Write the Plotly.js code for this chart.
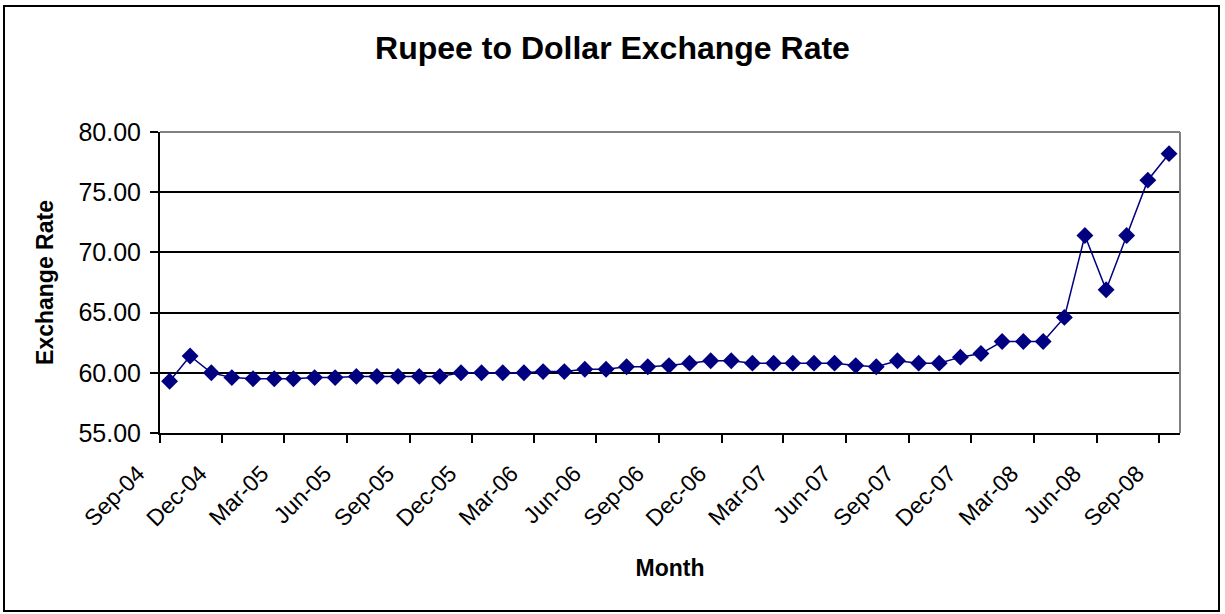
<!DOCTYPE html>
<html>
<head>
<meta charset="utf-8">
<script src="https://cdn.plot.ly/plotly-3.0.1.min.js"></script>
<style>
  html, body { margin: 0; padding: 0; background: #ffffff; }
  #wrap { position: relative; width: 1225px; height: 614px; }
  #chart { width: 1225px; height: 614px; }
  #frame { position: absolute; left: 3px; top: 5px; width: 1213px; height: 603px;
           border: 2px solid #000; pointer-events: none; }
</style>
</head>
<body>
<div id="wrap">
  <div id="chart"></div>
  <div id="frame"></div>
</div>
<script>
// Monthly observations (plotted mid-month on a date axis)
const months = [
  "2004-09-15","2004-10-15","2004-11-15","2004-12-15",
  "2005-01-15","2005-02-15","2005-03-15","2005-04-15","2005-05-15","2005-06-15",
  "2005-07-15","2005-08-15","2005-09-15","2005-10-15","2005-11-15","2005-12-15",
  "2006-01-15","2006-02-15","2006-03-15","2006-04-15","2006-05-15","2006-06-15",
  "2006-07-15","2006-08-15","2006-09-15","2006-10-15","2006-11-15","2006-12-15",
  "2007-01-15","2007-02-15","2007-03-15","2007-04-15","2007-05-15","2007-06-15",
  "2007-07-15","2007-08-15","2007-09-15","2007-10-15","2007-11-15","2007-12-15",
  "2008-01-15","2008-02-15","2008-03-15","2008-04-15","2008-05-15","2008-06-15",
  "2008-07-15","2008-08-15","2008-09-15"
];
const exchangeRate = [
  59.3, 61.4, 60.0, 59.6,
  59.5, 59.5, 59.5, 59.6, 59.6, 59.7,
  59.7, 59.7, 59.7, 59.7, 60.0, 60.0,
  60.0, 60.0, 60.1, 60.1, 60.3, 60.3,
  60.5, 60.5, 60.6, 60.8, 61.0, 61.0,
  60.8, 60.8, 60.8, 60.8, 60.8, 60.6,
  60.5, 61.0, 60.8, 60.8, 61.3, 61.6,
  62.6, 62.6, 62.6, 64.6, 71.4, 66.9,
  71.4, 76.0, 78.2
];
const yTicks = [55, 60, 65, 70, 75, 80];
const yTickText = ["55.00", "60.00", "65.00", "70.00", "75.00", "80.00"];
const xRange = ["2004-09-01", "2008-10-01"];
const yRange = [55, 80];

const FONT = "Arial, 'Liberation Sans', sans-serif";

const trace = {
  type: "scatter",
  mode: "lines+markers",
  x: months,
  y: exchangeRate,
  line: { color: "#000080", width: 1.5 },
  marker: { symbol: "diamond", size: 13, color: "#000080" },
  hoverinfo: "x+y",
  showlegend: false
};

const layout = {
  width: 1225, height: 614,
  margin: { l: 160, r: 45, t: 132, b: 181 },
  paper_bgcolor: "#ffffff",
  plot_bgcolor: "#ffffff",
  font: { family: FONT, color: "#000" },
  title: {
    text: "<b>Rupee to Dollar Exchange Rate</b>",
    font: { family: FONT, size: 32, color: "#000" },
    x: 0.5, xref: "container", xanchor: "center",
    y: 1 - 48 / 614, yref: "container", yanchor: "middle"
  },
  xaxis: {
    type: "date",
    range: xRange,
    tick0: "2004-09-01",
    dtick: "M3",
    tickformat: "%b-%y",
    tickangle: -45,
    ticks: "outside",
    ticklen: 8,
    tickwidth: 1.5,
    tickcolor: "#000",
    ticklabelshift: -22,
    ticklabelstandoff: 8,
    showgrid: false,
    zeroline: false,
    showline: true,
    linecolor: "#000",
    linewidth: 2,
    tickfont: { family: FONT, size: 23, color: "#000" },
    title: {
      text: "<b>Month</b>",
      font: { family: FONT, size: 23, color: "#000" },
      standoff: 30
    }
  },
  yaxis: {
    range: yRange,
    tickvals: yTicks,
    ticktext: yTickText,
    ticks: "outside",
    ticklen: 8,
    tickwidth: 1.5,
    tickcolor: "#000",
    showgrid: true,
    gridcolor: "#000",
    gridwidth: 1.5,
    zeroline: false,
    showline: true,
    linecolor: "#000",
    linewidth: 2,
    ticklabelstandoff: 4,
    tickfont: { family: FONT, size: 25, color: "#000" },
    title: {
      text: "<b>Exchange Rate</b>",
      font: { family: FONT, size: 23, color: "#000" },
      standoff: 18
    }
  },
  shapes: [
    { type: "line", xref: "paper", yref: "paper", x0: 0, x1: 1, y0: 1, y1: 1,
      line: { color: "#808080", width: 2 }, layer: "above" },
    { type: "line", xref: "paper", yref: "paper", x0: 1, x1: 1, y0: 0, y1: 1,
      line: { color: "#808080", width: 2 }, layer: "above" }
  ]
};

Plotly.newPlot("chart", [trace], layout, { displayModeBar: false });
</script>
</body>
</html>
